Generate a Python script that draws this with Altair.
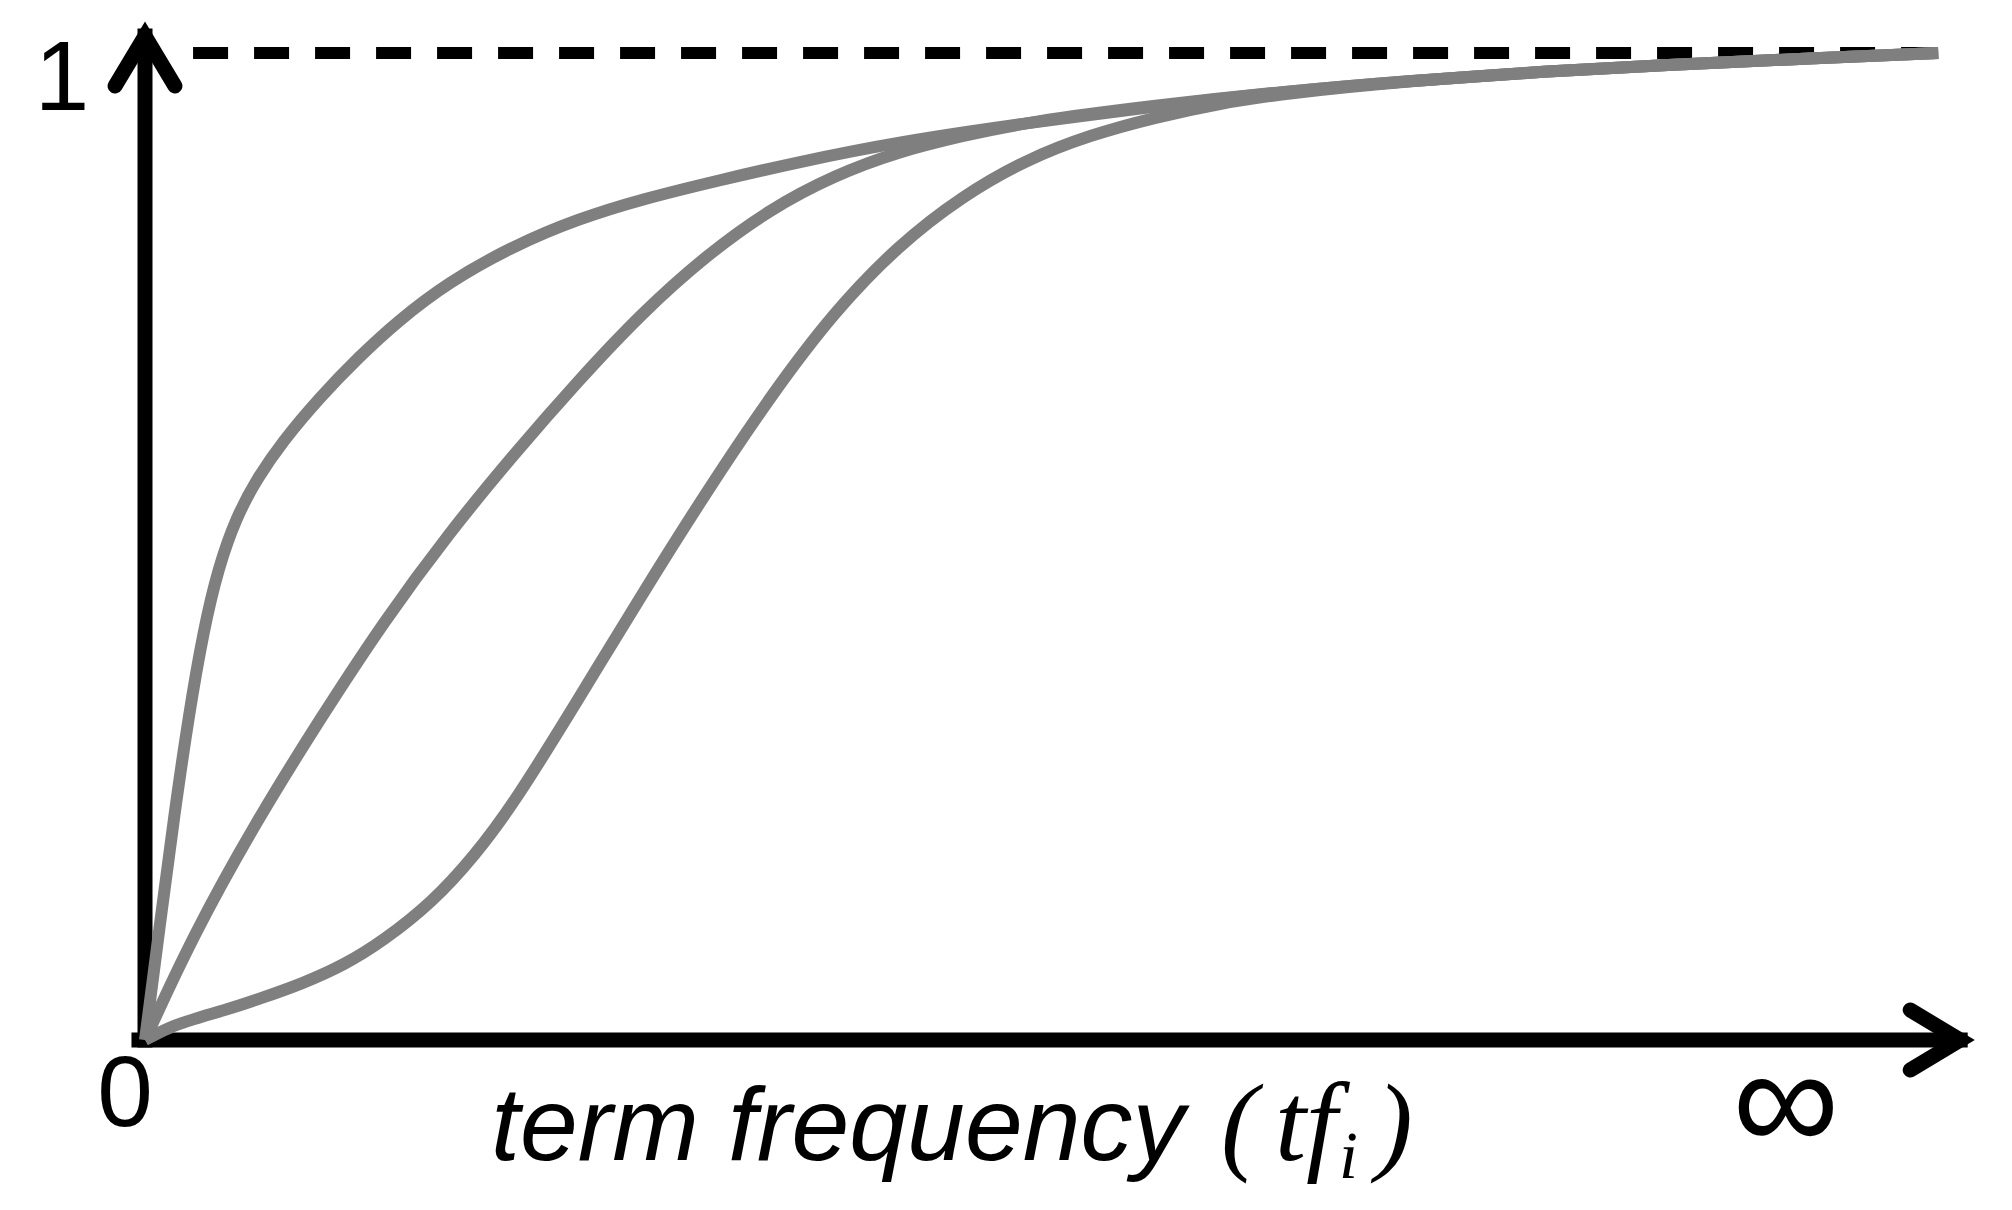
import altair as alt
import pandas as pd

# ---- curve values (x: term frequency on an arbitrary 0..100 scale, y: 0..1) ----
a_x = [0, 0.8, 1.6, 2.4, 3.2, 4.0, 5.0, 6.1, 7.5, 9.6, 11.7, 13.8, 16.6, 20.2, 23.7, 27.2, 31.4, 35.6, 41.2, 48.2, 55.3, 62.3, 69.3, 76.3, 83.3, 90.4, 98.1]
a_y = [0, 0.115, 0.228, 0.33, 0.415, 0.478, 0.53, 0.568, 0.606, 0.652, 0.692, 0.728, 0.768, 0.805, 0.832, 0.852, 0.871, 0.889, 0.91, 0.929, 0.946, 0.961, 0.972, 0.981, 0.988, 0.994, 1.0]

b_x = [0, 2.6, 6.1, 9.6, 13.1, 16.6, 20.2, 23.7, 27.2, 30.7, 34.2, 37.7, 41.2, 44.7, 48.2, 55.3, 62.3, 69.3, 76.3, 83.3, 90.4, 98.1]
b_y = [0, 0.105, 0.222, 0.326, 0.425, 0.513, 0.594, 0.668, 0.737, 0.795, 0.842, 0.876, 0.9, 0.916, 0.93, 0.947, 0.961, 0.972, 0.981, 0.988, 0.994, 1.0]

c_x = [0, 1.2, 2.6, 4.5, 6.3, 8.6, 10.9, 13.0, 15.75, 18.0, 20.2, 23.7, 27.2, 30.7, 34.2, 37.7, 41.2, 44.7, 48.2, 51.7, 55.3, 58.8, 62.3, 69.3, 76.3, 83.3, 90.4, 98.1]
c_y = [0, 0.012, 0.021, 0.031, 0.042, 0.057, 0.076, 0.1, 0.14, 0.186, 0.24, 0.345, 0.452, 0.555, 0.652, 0.738, 0.805, 0.855, 0.892, 0.917, 0.935, 0.949, 0.959, 0.972, 0.981, 0.988, 0.994, 1.0]

series_names = ["a", "b", "c"]

# asymptote (y = 1) and axis extents
dash_x = [2.63, 98.0]
dash_y = [1.0, 1.0]
axis_x0 = [-0.33, 0.0]
axis_x1 = [99.3, 0.0]
axis_y0 = [0.0, 0.0]
axis_y1 = [0.0, 1.0172]
arrow_x = [99.3, 0.0]
arrow_y = [0.0, 1.0172]
arrow_angle = [0, 270]

rows = []
for name, xs, ys in zip(series_names, [a_x, b_x, c_x], [a_y, b_y, c_y]):
    for x, y in zip(xs, ys):
        rows.append({"series": name, "tf": x, "w": y})
curves = pd.DataFrame(rows)
dash_df = pd.DataFrame({"tf": dash_x, "w": dash_y})
axis_df = pd.DataFrame({"x0": axis_x0, "x1": axis_x1, "y0": axis_y0, "y1": axis_y1})
arrow_df = pd.DataFrame({"tf": arrow_x, "w": arrow_y, "ang": arrow_angle})
one = pd.DataFrame({"k": [0]})

XS = alt.Scale(domain=[0, 100], nice=False, zero=False)
YS = alt.Scale(domain=[0, 1], nice=False, zero=False)

dashed = alt.Chart(dash_df).mark_line(
    color="black", strokeWidth=12, strokeDash=[35, 26], strokeCap="butt"
).encode(
    x=alt.X("tf:Q", scale=XS, axis=None),
    y=alt.Y("w:Q", scale=YS, axis=None),
)

axes = alt.Chart(axis_df).mark_rule(color="black", strokeWidth=15, strokeCap="square").encode(
    x=alt.X("x0:Q", scale=XS, axis=None),
    x2="x1:Q",
    y=alt.Y("y0:Q", scale=YS, axis=None),
    y2="y1:Q",
)

arrows = alt.Chart(arrow_df).mark_point(
    shape="M-1,-0.6L0,0L-1,0.6",
    filled=False,
    size=10000,
    strokeWidth=15,
    color="black",
    opacity=1,
    strokeCap="round",
    strokeJoin="miter",
).encode(
    x=alt.X("tf:Q", scale=XS, axis=None),
    y=alt.Y("w:Q", scale=YS, axis=None),
    angle=alt.Angle("ang:Q", scale=None),
)

lines = alt.Chart(curves).mark_line(
    color="#7f7f7f", strokeWidth=12, interpolate="basis", strokeCap="butt"
).encode(
    x=alt.X("tf:Q", scale=XS, axis=None),
    y=alt.Y("w:Q", scale=YS, axis=None),
    detail="series:N",
)


def label(text, x, y, size, font="Liberation Sans", style="normal", align="center", baseline="alphabetic"):
    return alt.Chart(one).mark_text(
        font=font, fontSize=size, fontStyle=style, align=align, baseline=baseline, color="black"
    ).encode(x=alt.value(x), y=alt.value(y), text=alt.value(text))


texts = [
    label("1", -83, 57, 98),
    label("0", -20, 1073, 100),
    label("∞", 1641, 1053, 150, baseline="middle"),
    label("term frequency", 346, 1107, 104, style="italic", align="left"),
    label("(", 1076, 1107, 110, font="Liberation Serif", style="italic", align="left"),
    label("tf", 1130, 1107, 112, font="Liberation Serif", style="italic", align="left"),
    label("i", 1194, 1125, 68, font="Liberation Serif", style="italic", align="left"),
    label(")", 1231, 1107, 110, font="Liberation Serif", style="italic", align="left"),
]

chart = alt.layer(dashed, axes, lines, arrows, *texts).properties(
    width=1828,
    height=987,
    autosize=alt.AutoSizeParams(type="none"),
    padding={"left": 137, "top": 45, "right": 20, "bottom": 160},
    background="white",
).configure_view(stroke=None)

chart.save("out.html", embed_options={"renderer": "svg", "actions": False})
